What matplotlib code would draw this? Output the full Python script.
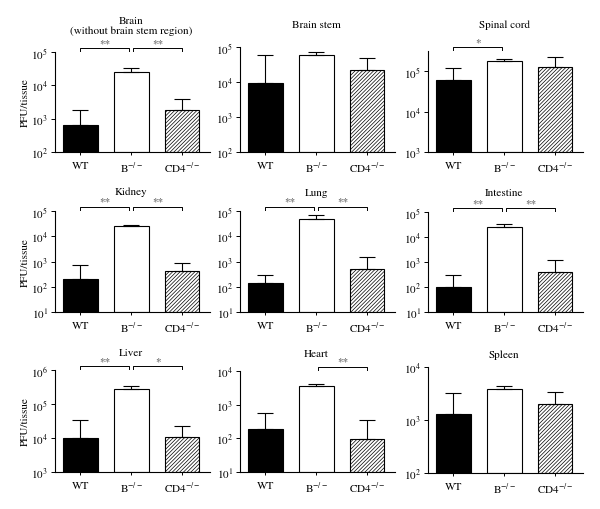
import numpy as np
import matplotlib
matplotlib.use("Agg")
import matplotlib.pyplot as plt
from matplotlib.ticker import LogLocator, NullLocator

plt.rcParams["font.family"] = ["STIXGeneral", "DejaVu Serif"]
plt.rcParams["mathtext.fontset"] = "stix"
plt.rcParams["hatch.linewidth"] = 0.5

# ------------------------------------------------------------
# data (PFU/tissue)
# ------------------------------------------------------------
groups = ["WT", r"B$^{-/-}$", r"CD4$^{-/-}$"]
titles = ["Brain\n(without brain stem region)", "Brain stem", "Spinal cord",
          "Kidney", "Lung", "Intestine",
          "Liver", "Heart", "Spleen"]

wt_mean = [650, 9100, 60000, 200, 145, 100, 10200, 186, 1310]
wt_upper = [1860, 59000, 117000, 710, 285, 290, 34000, 580, 3180]
b_mean = [24500, 60000, 183000, 24500, 47000, 26000, 283000, 3600, 3900]
b_upper = [32000, 74000, 205000, 27000, 67000, 32000, 340000, 4200, 4350]
cd4_mean = [1860, 22000, 124000, 410, 520, 415, 10700, 98, 2000]
cd4_upper = [4000, 49000, 230000, 900, 1560, 1240, 22700, 360, 3400]

y_limits = [(1e2, 1e5), (1e2, 1e5), (1e3, 10 ** 5.5),
            (1e1, 1e5), (1e1, 1e5), (1e1, 1e5),
            (1e3, 1e6), (1e1, 1e4), (1e2, 1e4)]

# (panel, left group, right group, label)
brackets = [(0, 0, 1, "**"), (0, 1, 2, "**"),
            (2, 0, 1, "*"),
            (3, 0, 1, "**"), (3, 1, 2, "**"),
            (4, 0, 1, "**"), (4, 1, 2, "**"),
            (5, 0, 1, "**"), (5, 1, 2, "**"),
            (6, 0, 1, "**"), (6, 1, 2, "*"),
            (7, 1, 2, "**")]

# ------------------------------------------------------------
# layout in pixels (top-down)
# ------------------------------------------------------------
W, H = 600, 510
col_left = [55, 240, 428]
ax_w = 155
tops = [53, 48, 52, 212, 212, 213, 371, 372, 368]
bottoms = [153, 153, 153, 313, 313, 313, 473, 473, 474]
title_y = [26, 25, 25, 192, 193, 193, 353, 354, 355]
XMIN, XMAX = -0.5, 2.55
FS = 8

fig = plt.figure(figsize=(W / 100, H / 100), dpi=100)
x = np.arange(3)

for i in range(9):
    left = col_left[i % 3]
    top, bottom = tops[i], bottoms[i]
    h_px = bottom - top
    ax = fig.add_axes([left / W, 1 - bottom / H, ax_w / W, h_px / H])
    ax.set_yscale("log")
    lo, hi = y_limits[i]

    means = [wt_mean[i], b_mean[i], cd4_mean[i]]
    uppers = [wt_upper[i], b_upper[i], cd4_upper[i]]
    ax.bar(x, [m - lo for m in means], bottom=lo, width=0.68,
           color=["black", "white", "white"], edgecolor="black",
           linewidth=0.8, hatch=[None, None, "/////////"], zorder=2)
    ax.errorbar(x, means, yerr=[np.zeros(3), np.array(uppers) - np.array(means)],
                fmt="none", ecolor="black", elinewidth=0.8, capsize=5.5,
                capthick=0.8, zorder=3)

    ax.set_xlim(XMIN, XMAX)
    ax.set_ylim(lo, hi)
    ax.yaxis.set_major_locator(LogLocator(base=10, numticks=12))
    ax.yaxis.set_minor_locator(NullLocator())
    ax.set_xticks(x)
    ax.set_xticklabels(groups)
    ax.tick_params(axis="y", direction="out", length=3, width=0.7,
                   labelsize=FS, pad=2)
    ax.tick_params(axis="x", direction="out", length=2, width=0.7,
                   labelsize=FS, pad=4)
    for s in ["top", "right"]:
        ax.spines[s].set_visible(False)
    for s in ["left", "bottom"]:
        ax.spines[s].set_linewidth(0.8)

    # title over the middle bar
    mid_px = left + (1 - XMIN) / (XMAX - XMIN) * ax_w
    fig.text(mid_px / W, 1 - title_y[i] / H, titles[i], ha="center",
             va="center", fontsize=FS, linespacing=1.0)

    if i % 3 == 0:
        fig.text(25 / W, 1 - (top + bottom) / 2 / H, "PFU/tissue",
                 rotation=90, ha="center", va="center", fontsize=FS)

    # significance brackets
    for p, g1, g2, label in brackets:
        if p != i:
            continue
        x1 = g1 + (0.04 if g1 == 1 else 0)
        x2 = g2 - (0.04 if g2 == 1 else 0)
        y_line = 1 + 4.5 / h_px
        y_tick = 1 + 1.0 / h_px
        tr = ax.get_xaxis_transform()
        ax.plot([x1, x1, x2, x2], [y_tick, y_line, y_line, y_tick],
                color="black", lw=0.7, transform=tr, clip_on=False)
        ax.text((x1 + x2) / 2, y_line + 0.5 / h_px, label, transform=tr,
                ha="center", va="bottom", fontsize=8, color="#444444")

fig.savefig("out.png", dpi=100)
